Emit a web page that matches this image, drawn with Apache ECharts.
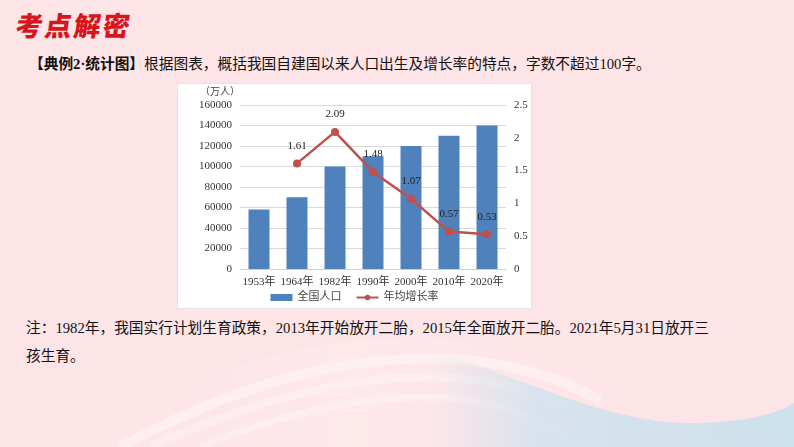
<!DOCTYPE html>
<html>
<head>
<meta charset="utf-8">
<script src="https://cdn.jsdelivr.net/npm/echarts@6/dist/echarts.min.js"></script>
<style>
  html, body { margin: 0; padding: 0; }
  body {
    width: 794px; height: 447px; overflow: hidden; position: relative;
    background: #fde4e7;
    font-family: 'Liberation Serif', 'Noto Sans CJK SC', serif;
  }
  #bg { position: absolute; left: 0; top: 0; }
  .title {
    position: absolute; left: 16px; top: 5px;
    font-family: 'Noto Sans CJK SC'; font-weight: 900; font-size: 27px;
    color: #d8141c; letter-spacing: 2px; transform: skewX(-8deg);
  }
  .q {
    position: absolute; left: 29px; top: 52px; font-size: 14.7px; color: #111;
    white-space: nowrap;
  }
  .q b { font-weight: bold; }
  .note {
    position: absolute; left: 26px; top: 314px; font-size: 14.7px; color: #111;
    line-height: 28px; white-space: nowrap;
  }
  #chart {
    position: absolute; left: 177px; top: 83px; width: 355px; height: 226px;
    background: #fff; border: 1px solid #e4e4e4; box-sizing: border-box;
  }
</style>
</head>
<body>
<svg id="bg" width="794" height="447">
  <defs>
    <linearGradient id="sw" x1="0" y1="0" x2="1" y2="0">
      <stop offset="0" stop-color="#fff" stop-opacity="0"/>
      <stop offset="0.5" stop-color="#fff" stop-opacity="0.45"/>
      <stop offset="1" stop-color="#fff" stop-opacity="0"/>
    </linearGradient>
    <linearGradient id="bl" x1="0" y1="0" x2="1" y2="0">
      <stop offset="0" stop-color="#cfe2ee" stop-opacity="0"/>
      <stop offset="0.3" stop-color="#cfe2ee" stop-opacity="0.8"/>
      <stop offset="1" stop-color="#cde1ec" stop-opacity="1"/>
    </linearGradient>
  </defs>
  <path d="M60,447 C250,330 460,300 620,390 L640,447 Z" fill="url(#sw)" opacity="0.35"/>
  <path d="M120,447 C300,350 470,330 600,400" stroke="#fff" stroke-opacity="0.35" stroke-width="10" fill="none"/>
  <path d="M150,447 C320,370 480,350 590,420" stroke="#fff" stroke-opacity="0.3" stroke-width="8" fill="none"/>
  <path d="M200,447 C340,390 480,375 570,440" stroke="#fff" stroke-opacity="0.3" stroke-width="7" fill="none"/>
  <path d="M430,447 L430,350 C530,380 610,425 700,423 C750,422 780,412 794,403 L794,447 Z" fill="url(#bl)"/>
</svg>

<div class="title">考点解密</div>
<div class="q"><b>【典例2·统计图】</b>根据图表，概括我国自建国以来人口出生及增长率的特点，字数不超过100字。</div>
<div id="chart"></div>
<div class="note">注：1982年，我国实行计划生育政策，2013年开始放开二胎，2015年全面放开二胎。2021年5月31日放开三<br>孩生育。</div>

<script>
var years = ['1953年', '1964年', '1982年', '1990年', '2000年', '2010年', '2020年'];
var population = [58000, 70000, 100000, 110000, 120000, 130000, 140000];
var growthRate = [null, 1.61, 2.09, 1.48, 1.07, 0.57, 0.53];

var chart = echarts.init(document.getElementById('chart'));
var font = "'Liberation Serif', 'Noto Sans CJK SC', serif";
var option = {
  animation: false,
  textStyle: { fontFamily: font },
  grid: { left: 62, right: 25, top: 21, bottom: 39 },
  legend: {
    bottom: 0, left: 'center', itemGap: 14, itemWidth: 22, itemHeight: 7,
    textStyle: { fontSize: 11, color: '#444', fontFamily: font },
    data: [
      { name: '全国人口', icon: 'rect' },
      { name: '年均增长率' }
    ]
  },
  xAxis: {
    type: 'category',
    data: years,
    axisTick: { show: false },
    axisLine: { lineStyle: { color: '#d0d0d0' } },
    axisLabel: { color: '#333', fontSize: 11, margin: 8, interval: 0 }
  },
  yAxis: [
    {
      type: 'value', min: 0, max: 160000, interval: 20000,
      name: '（万人）', nameGap: 8,
      nameTextStyle: { color: '#444', fontSize: 10, align: 'right' },
      axisLabel: { color: '#333', fontSize: 11, margin: 8, formatter: function (v) { return String(v); } },
      splitLine: { lineStyle: { color: '#d9d9d9' } }
    },
    {
      type: 'value', min: 0, max: 2.5, interval: 0.5,
      axisLabel: { color: '#333', fontSize: 11, margin: 8 },
      splitLine: { show: false }
    }
  ],
  series: [
    {
      name: '全国人口', type: 'bar', data: population, barWidth: 21,
      itemStyle: { color: '#4f81bd' }
    },
    {
      name: '年均增长率', type: 'line', yAxisIndex: 1, data: growthRate,
      symbol: 'circle', symbolSize: 8,
      lineStyle: { color: '#c0504d', width: 2.5 },
      itemStyle: { color: '#c0504d' },
      label: { show: true, position: 'top', distance: 8, color: '#222', fontSize: 11 }
    }
  ]
};
chart.setOption(option);
</script>
</body>
</html>
